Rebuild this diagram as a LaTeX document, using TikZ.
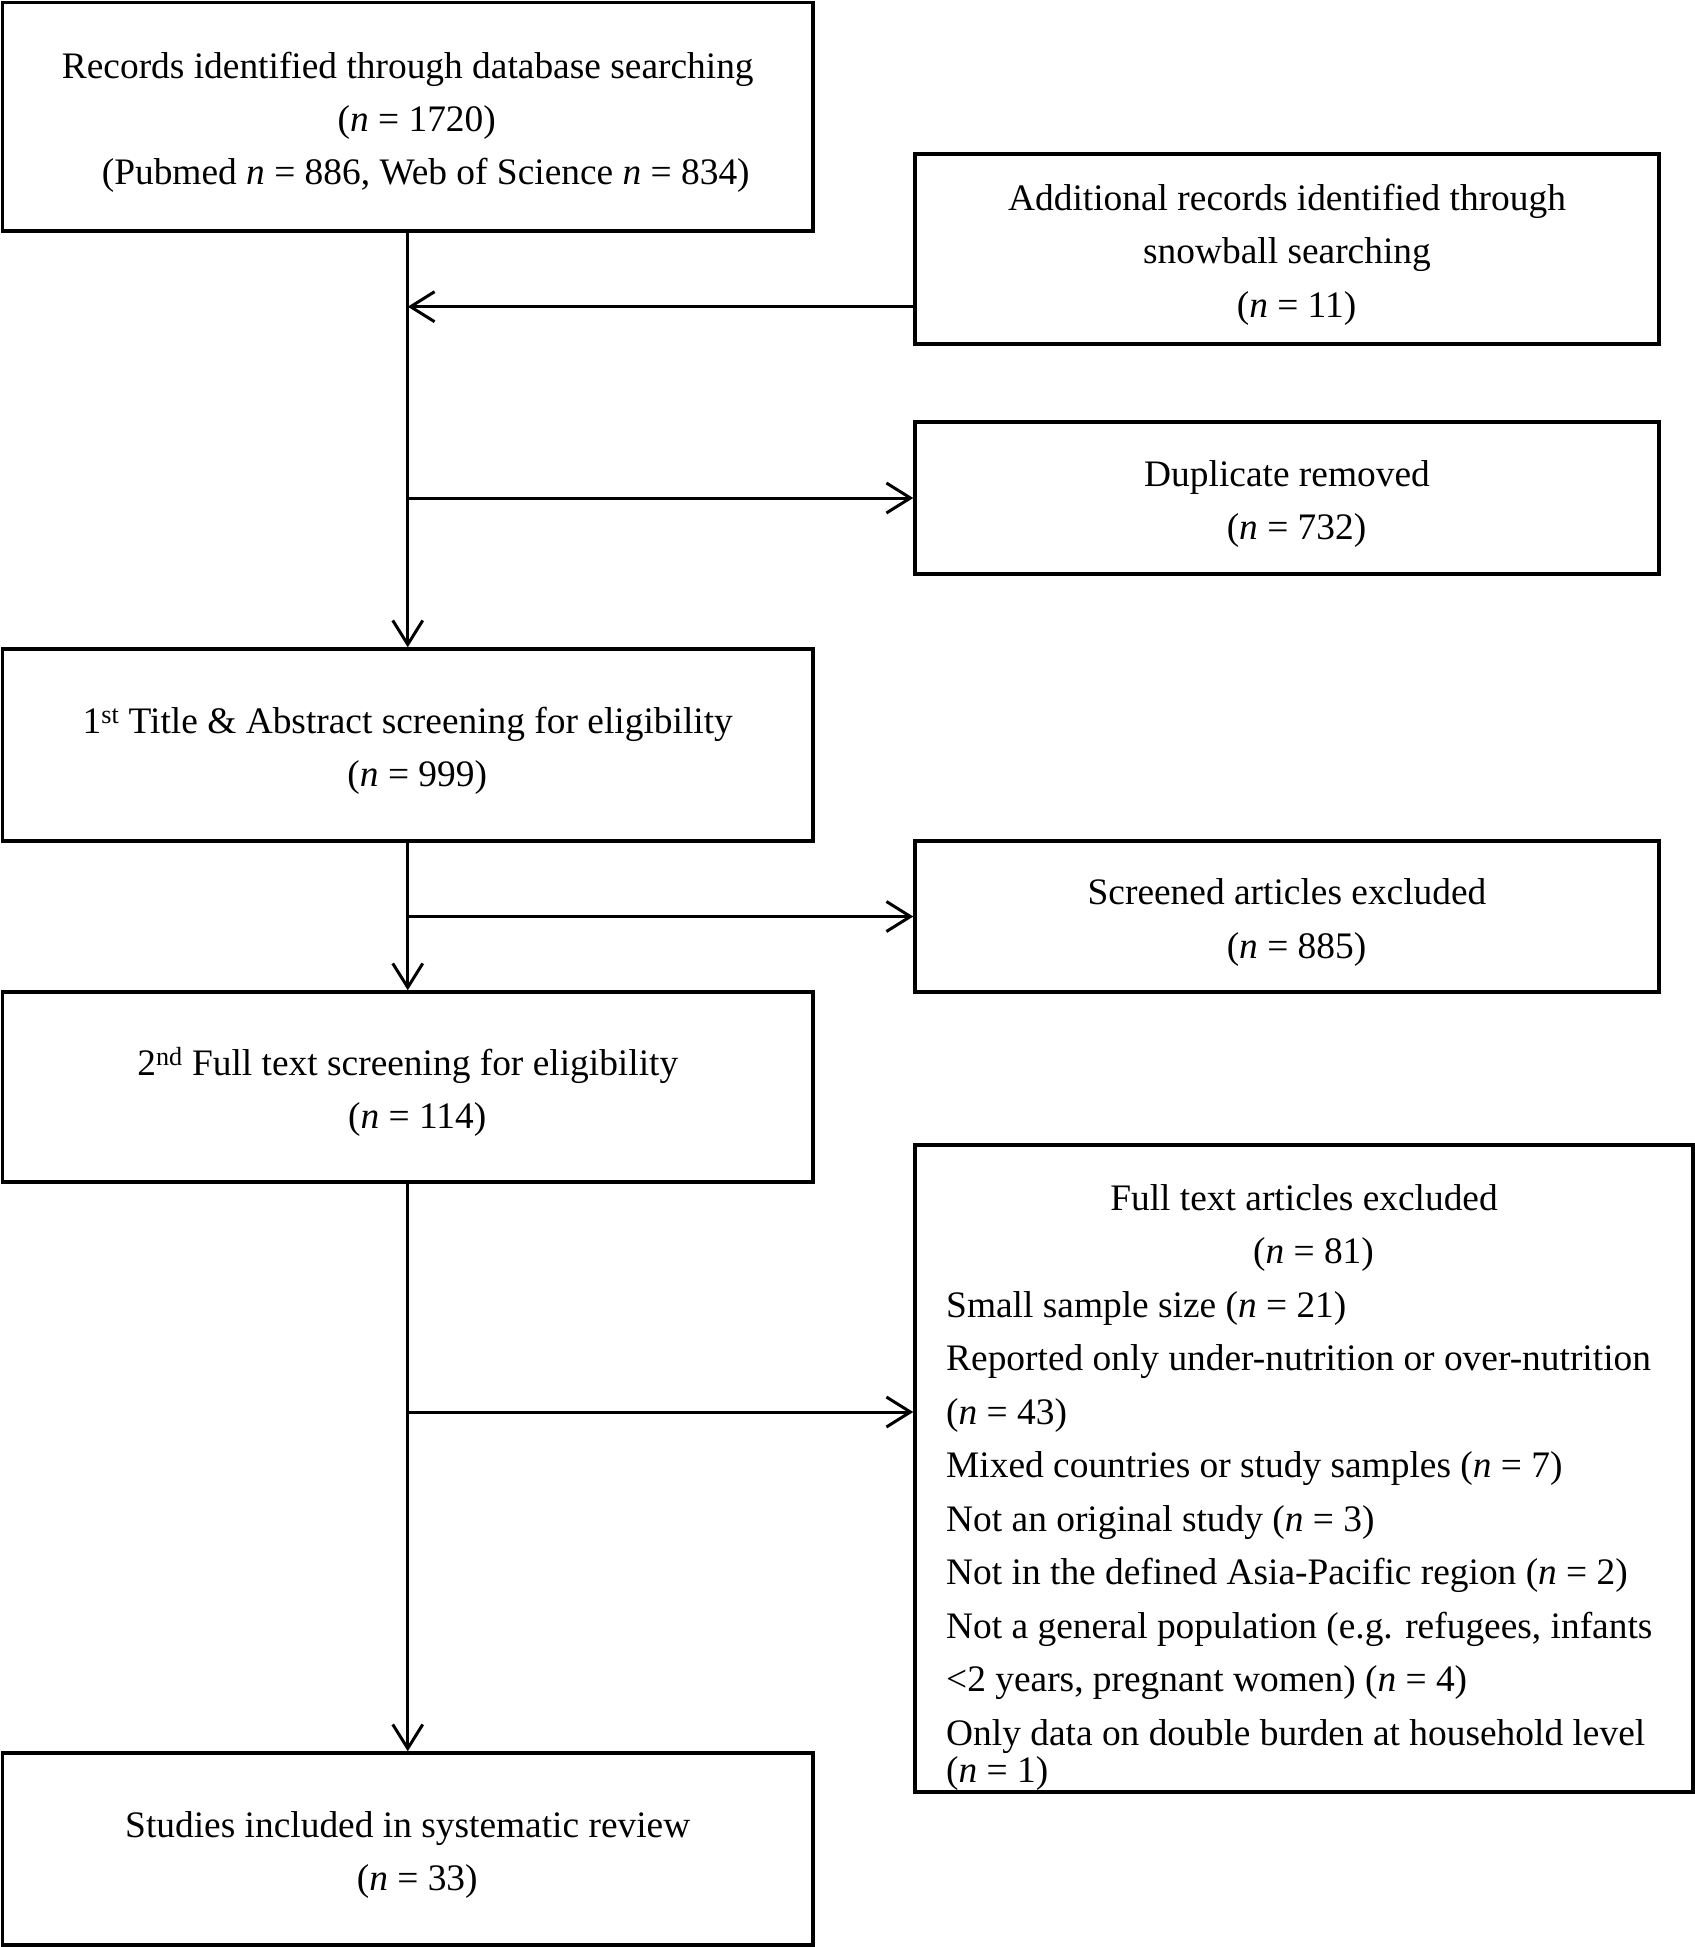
\documentclass[tikz,border=0pt]{standalone}
\usepackage{fontspec}
\setmainfont{Liberation Serif}
\usetikzlibrary{arrows.meta}
\newcommand\myfs{\fontsize{37.4}{53.5}\selectfont}
\newcommand\nn[1]{\hspace*{19pt}(\textit{n} = #1)}
\begin{document}
\begin{tikzpicture}[x=1pt,y=-1pt,
  box/.style={draw, line width=3.5pt, inner sep=0pt, align=center, font=\myfs},
  leftbox/.style={box, minimum width=810.5pt},
  rightbox/.style={box, minimum width=744pt},
  txt/.style={inner sep=0pt, font=\myfs},
  conn/.style={line width=3pt, -{Straight Barb[length=24pt,width=30pt,line width=3pt]}}
]
\useasboundingbox (0,0) rectangle (1695,1947);

\node[leftbox, minimum height=228.5pt] (b1) at (407.75,116.75)
  {\strut Records identified through database searching\\
   \hspace*{18pt}(\textit{n} = 1720)\\
   \hspace*{36pt}(Pubmed \textit{n} = 886, Web of Science \textit{n} = 834)};
\node[rightbox, minimum height=190pt] (b2) at (1287,249)
  {\strut Additional records identified through\\ snowball searching\\ \nn{11}};
\node[rightbox, minimum height=152pt] (b3) at (1287,498)
  {\strut Duplicate removed\\ \nn{732}};
\node[leftbox, minimum height=192pt] (b4) at (407.75,745)
  {\strut 1\textsuperscript{st} Title \& Abstract screening for eligibility\\ \nn{999}};
\node[rightbox, minimum height=151pt] (b5) at (1287,916.5)
  {\strut Screened articles excluded\\ \nn{885}};
\node[leftbox, minimum height=190pt] (b6) at (407.75,1087)
  {\strut 2\textsuperscript{nd} Full text screening for eligibility\\ \nn{114}};
\node[box, minimum width=778pt, minimum height=647pt] (b7) at (1304,1468.5) {};
\node[txt, anchor=north, align=center] (t7) at (1304,1172.5)
  {\strut Full text articles excluded\\ \nn{81}};
\node[txt, anchor=north west, align=left] (l7) at (946,1279.5)
  {\strut Small sample size (\textit{n} = 21)\\
   Reported only under-nutrition or over-nutrition\\
   (\textit{n} = 43)\\
   Mixed countries or study samples (\textit{n} = 7)\\
   Not an original study (\textit{n} = 3)\\
   Not in the defined Asia-Pacific region (\textit{n} = 2)\\
   Not a general population (e.g. refugees, infants\\
   <2 years, pregnant women) (\textit{n} = 4)\\
   Only data on double burden at household level\\[-16pt]
   (\textit{n} = 1)};
\node[leftbox, minimum height=192pt] (b8) at (407.75,1849)
  {\strut Studies included in systematic review\\ \nn{33}};

\coordinate (j1) at (407.75,306.7);
\coordinate (j2) at (b1.south |- b3.west);
\coordinate (j3) at (b4.south |- b5.west);
\coordinate (j4) at (407.75,1412);

\draw[conn] (b1.south) -- (b4.north);
\draw[conn] (b2.west |- j1) -- (j1);
\draw[conn] (j2) -- (b3.west);
\draw[conn] (b4.south) -- (b6.north);
\draw[conn] (j3) -- (b5.west);
\draw[conn] (b6.south) -- (b8.north);
\draw[conn] (j4) -- (b7.west |- j4);
\end{tikzpicture}
\end{document}
